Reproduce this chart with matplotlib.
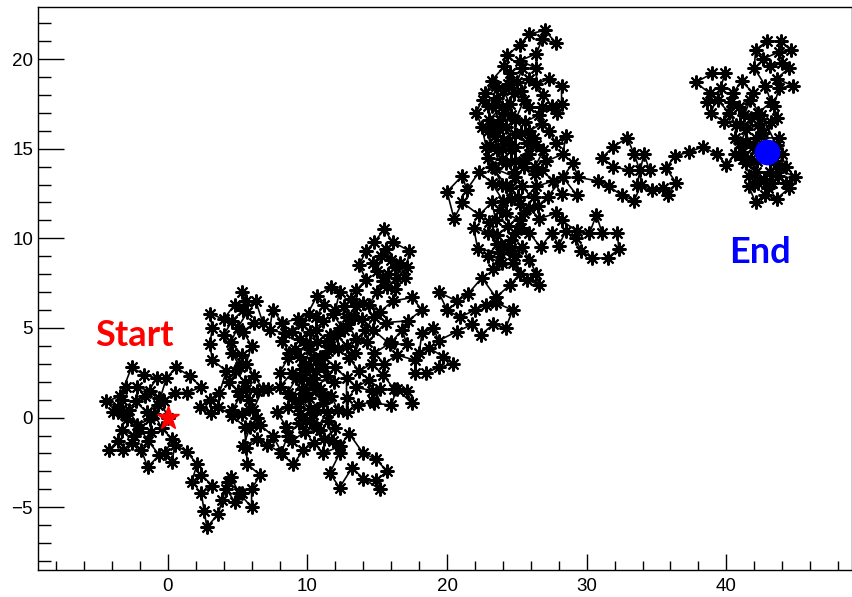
import numpy as np
import matplotlib.pyplot as plt
from matplotlib.ticker import MultipleLocator

## random walk, split into pieces (x, y)
start_loop = [
    (0, 0), (-0.6, 1.1), (-1.3, 1.5), (-2.2, 1.7), (-3.0, 1.7), (-3.3, 1.0), (-3.9, 0.3),
    (-3.3, 0.2), (-2.9, -0.1), (-2.2, -0.4), (-1.3, -0.1), (-1.2, -0.8), (-2.4, -1.0),
    (-3.3, -0.7), (-3.6, -1.3), (-4.2, -1.8), (-3.2, -1.8), (-2.6, -1.4), (-1.9, -1.8),
    (-1.45, -2.75), (-0.6, -2.1), (-1.4, -1.3), (-2.0, -0.6), (-2.8, 0.4), (-3.6, 0.6),
    (-4.4, 0.9), (-3.4, 1.2), (-2.6, 2.8), (-1.7, 2.4), (-0.8, 2.2), (-1.6, 1.2), (-2.3, 0.9),
    (-1.5, 0.3), (-0.7, 0.7), (-0.1, 2.2), (0.6, 2.8), (1.6, 2.3), (2.4, 1.7), (1.4, 1.4),
    (0.5, 1.4), (-0.3, 0.9), (-1.0, 0.2), (-0.4, -0.6), (0.3, -1.2), (-0.2, -2.0), (0.3, -2.5),
    (0.5, -1.5), (1.35, -1.9), (2.1, -2.6),
]
lower_dip = [
    (1.7, -3.6), (2.4, -3.2), (3.2, -3.8), (2.4, -4.2), (2.6, -5.2), (2.8, -6.1), (3.6, -5.4),
    (3.9, -4.6), (4.3, -3.6), (5.3, -4.2), (4.8, -4.7), (4.2, -4.0), (4.5, -3.3), (5.1, -4.2),
    (6.0, -5.0), (6.0, -4.0), (6.6, -3.2), (5.7, -2.6), (5.6, -1.7), (5.5, -0.5), (4.6, 0.1),
    (3.6, 0.6), (3.1, 0.25), (2.3, 0.6), (3.0, 1.0), (3.7, 1.4),
]
west_cluster = [
    (4.2, 2.6), (3.2, 3.2), (3.0, 4.1), (3.2, 5.0), (3.0, 5.8), (4.0, 5.5), (4.8, 6.3),
    (5.6, 6.5), (5.3, 7.0), (5.7, 5.9), (5.0, 5.0), (4.5, 4.2), (5.3, 3.5), (4.8, 2.6),
    (5.5, 2.0), (5.2, 1.2), (4.6, 0.4), (5.3, 0.2), (6.1, 0.4), (6.8, 1.6), (6.2, 2.3),
    (5.6, 3.0), (6.0, 4.0), (5.4, 4.8), (6.2, 5.3), (6.8, 5.3), (6.3, 6.5), (5.4, 6.0),
    (4.6, 5.4), (4.0, 4.6), (4.6, 3.6), (5.2, 2.8), (4.4, 2.0), (5.0, 1.5), (5.8, 1.0),
    (6.4, 0.0), (5.9, -0.5), (5.4, -1.6), (6.4, -1.2), (7.1, -1.5), (8.2, -2.0), (7.5, -1.0),
    (6.6, -0.4), (5.8, 0.5), (5.6, 1.6), (6.4, 1.5), (7.2, 1.6),
]
middle_low = [
    (8.0, 1.7), (8.9, 2.5), (8.0, 2.5), (8.6, 3.3), (9.1, 3.8), (9.8, 3.0), (10.4, 2.2),
    (9.6, 1.6), (9.4, 1.0), (8.6, 0.6), (7.8, 0.3), (8.5, -0.5), (8.9, -1.3), (9.8, -0.8),
    (10.9, -0.7), (10.3, 0.2), (11.1, 0.8), (10.6, 1.6), (11.4, 2.3), (10.8, 3.0), (11.5, 3.7),
    (10.7, 4.2), (10.2, 4.8), (9.5, 4.4), (8.9, 4.8), (8.2, 4.3), (8.7, 3.6), (9.5, 3.4),
    (10.1, 2.7), (9.2, 2.2), (8.6, 1.4), (9.3, 0.6), (10.1, 1.1), (10.9, 1.6), (11.7, 1.2),
    (12.2, 0.4), (11.5, -0.2), (11.8, -1.3), (12.3, -2.0), (11.6, -3.1), (12.3, -3.9),
    (13.2, -2.8), (14.0, -3.4), (15.2, -4.0), (14.9, -3.5), (15.7, -3.0), (14.9, -2.3),
    (14.0, -2.0), (13.0, -0.9), (12.3, -1.6), (11.1, -2.0), (10.5, -1.4), (9.7, -1.8),
    (9.0, -2.6), (8.1, -2.0), (8.6, -1.0), (9.4, -0.3), (10.2, 0.5), (9.8, 1.4), (10.6, 2.6),
    (11.2, 3.4), (12.0, 2.8), (12.8, 2.2), (12.8, 1.1), (12.8, 0.3), (13.6, 0.7), (14.7, 0.9),
    (14.6, 1.5), (13.5, 1.7), (14.4, 2.1), (15.2, 1.6), (14.8, 0.8), (16.0, 0.7), (16.4, 1.6),
    (17.5, 0.8), (17.1, 1.5), (16.2, 1.6), (15.4, 2.4), (14.6, 3.0), (13.7, 2.6), (13.0, 3.3),
    (12.2, 3.8), (11.6, 4.6), (12.3, 5.0),
]
middle_core = [
    (11.6, 4.0), (10.9, 3.4), (10.2, 3.8), (9.6, 2.7), (10.3, 1.9), (11.2, 1.2), (10.6, 0.4),
    (9.9, -0.2), (10.7, -0.6), (11.4, 0.3), (12.0, -0.6), (11.2, -1.2), (10.4, -0.3),
    (9.5, 0.2), (8.9, 1.1), (9.7, 2.2), (11.9, 2.0), (11.2, 2.8), (10.5, 3.3), (9.9, 4.1),
    (10.6, 4.9), (11.4, 4.3), (12.1, 4.6),
]
middle_knot = [
    (12.8, 4.0), (13.4, 3.6), (14.1, 4.9), (14.8, 5.6), (14.0, 6.4), (13.1, 6.6), (12.6, 6.2),
    (13.3, 5.6), (12.6, 4.9), (11.8, 5.8), (11.2, 6.3), (10.6, 5.6),
]
middle_high = [
    (11.1, 5.4), (10.1, 5.8), (9.3, 5.5), (8.2, 5.3), (7.5, 6.0), (7.3, 4.9), (8.4, 4.7),
    (9.6, 5.2), (10.7, 6.8), (11.7, 7.3), (12.3, 7.0), (12.0, 6.0), (12.8, 5.6), (13.5, 6.2),
    (13.5, 7.1), (14.2, 7.7), (13.7, 8.5), (14.2, 9.3), (14.8, 9.8), (15.5, 10.5), (16.1, 9.8),
    (17.3, 9.3), (17.1, 8.4), (16.4, 7.8), (15.7, 7.3), (15.0, 8.2), (15.3, 9.0), (16.0, 8.8),
    (16.6, 8.6), (17.0, 7.8), (16.3, 7.2), (15.4, 7.6), (14.7, 8.6), (15.6, 9.4), (16.3, 8.4),
    (15.8, 8.0), (15.0, 7.0), (14.4, 6.3), (15.2, 5.9), (16.1, 6.5), (17.5, 6.7),
    (18.2, 6.0), (17.2, 5.4), (15.6, 5.3), (14.3, 4.2), (13.5, 4.4), (12.9, 5.2), (13.9, 5.5),
    (14.7, 4.9), (15.9, 4.1), (17.1, 4.1), (16.8, 4.9), (16.0, 4.2), (14.8, 3.6), (15.5, 3.0),
    (16.4, 3.5), (17.7, 3.2), (17.7, 2.5),
]
east_low = [
    (18.5, 2.5), (19.4, 2.8), (20.4, 3.0), (19.7, 3.4), (18.7, 3.9), (18.0, 3.6), (18.2, 4.7),
    (19.0, 5.0), (19.4, 4.3), (20.7, 4.8), (21.8, 5.2), (22.4, 4.6), (23.3, 5.2), (24.2, 5.0),
    (24.7, 6.0), (23.5, 6.4), (22.8, 6.3), (22.0, 6.0), (20.9, 5.6), (20.0, 6.0), (19.4, 7.0),
    (20.7, 6.5), (21.5, 6.9), (22.5, 7.8), (23.5, 6.7), (24.5, 7.4), (25.2, 8.0), (24.7, 8.6),
    (23.3, 8.3), (23.8, 9.2),
]
tall_lower = [
    (22.2, 9.4), (21.9, 10.6), (22.9, 10.3), (24.0, 9.5), (24.7, 9.1), (25.4, 9.5), (25.9, 8.8),
    (26.4, 8.0), (26.6, 7.4), (25.7, 7.7), (25.2, 8.0), (24.9, 9.0), (24.9, 10.3), (25.9, 10.3),
    (26.7, 9.5), (27.5, 10.3), (28.0, 9.6), (28.5, 10.4), (29.2, 10.0), (29.6, 9.3), (30.4, 8.9),
    (31.5, 8.9), (32.3, 9.4), (32.2, 10.3), (31.1, 10.3), (30.7, 11.3), (30.2, 10.3),
    (29.3, 10.4), (28.2, 11.0), (27.8, 11.4), (26.6, 11.1), (25.9, 11.7), (25.2, 11.0),
    (24.2, 11.4), (23.5, 11.0), (23.2, 12.0), (22.3, 11.3), (21.1, 12.0), (20.5, 11.1),
    (20.0, 12.6), (21.1, 13.5), (21.4, 12.7), (22.3, 13.7), (23.2, 13.1), (24.0, 12.1),
    (25.2, 11.9), (26.4, 12.9), (27.6, 13.2), (28.2, 12.5), (29.3, 12.4), (28.3, 13.4),
    (27.2, 12.3), (26.5, 11.8), (25.4, 12.9), (24.5, 12.8), (24.9, 13.4), (23.4, 13.9),
]
tall_mid = [
    (23.9, 13.0), (24.6, 12.2), (23.8, 11.6), (23.0, 10.9), (23.6, 10.2), (24.4, 10.7),
    (25.3, 10.6), (24.6, 9.9), (23.6, 9.7), (22.9, 9.0), (23.9, 8.6), (24.4, 9.6),
    (25.5, 11.4), (26.2, 12.3), (25.1, 12.3), (24.2, 13.0), (23.2, 14.0),
]
tall_upper = [
    (22.9, 14.5), (22.8, 15.1), (22.5, 16.2), (22.1, 17.0), (22.7, 18.1), (23.5, 18.5),
    (23.2, 17.4), (23.8, 16.6), (23.4, 15.7), (23.9, 15.0), (24.9, 15.1), (24.2, 16.2),
    (24.5, 17.5), (24.0, 18.3), (24.5, 19.2), (25.0, 18.7), (25.4, 19.5), (24.3, 20.2),
    (25.2, 20.8), (25.9, 21.4), (27.0, 21.6), (27.8, 20.9), (26.8, 21.1), (26.4, 20.3),
    (25.2, 19.9), (26.4, 19.5), (26.4, 18.6), (27.3, 18.9), (28.2, 18.5), (28.2, 17.5),
    (27.9, 17.0), (26.8, 17.3), (25.9, 17.3), (25.5, 17.7), (24.9, 16.6), (24.9, 15.8),
    (25.7, 15.3), (25.9, 16.0), (26.8, 16.4), (27.3, 16.0), (27.8, 15.3), (28.5, 15.7),
    (28.3, 14.7), (27.1, 14.3), (26.4, 15.2), (25.9, 14.7), (24.9, 14.3), (24.2, 14.2),
]
tall_core = [
    (24.8, 13.7), (25.6, 14.4), (26.3, 14.0), (26.9, 14.9), (26.2, 15.6), (25.3, 15.9),
    (24.4, 15.4), (23.7, 16.1), (22.9, 16.0), (23.1, 15.2), (23.9, 14.4), (23.6, 14.9),
    (23.3, 16.3), (22.9, 17.4), (22.6, 17.7), (23.2, 18.8), (24.1, 19.6), (24.8, 18.1),
    (24.1, 17.0), (23.6, 17.8), (24.4, 18.6), (25.3, 18.2), (25.9, 18.9), (26.9, 18.0),
    (27.5, 17.4), (26.6, 16.9), (25.6, 16.5), (24.6, 16.9), (23.9, 17.3), (23.0, 16.6),
    (24.0, 15.5), (24.6, 14.9), (25.5, 14.0), (26.3, 13.6), (26.8, 13.8), (27.6, 13.2),
    (28.3, 13.4), (29.0, 14.2),
]
bridge = [
    (29.4, 13.4), (30.8, 13.2), (31.6, 12.9), (32.5, 12.4), (33.4, 12.1), (33.9, 13.0),
    (33.8, 13.8), (33.4, 14.7), (32.9, 15.6), (31.9, 15.1), (31.1, 14.5), (31.9, 14.0),
    (33.0, 13.8), (34.5, 13.8), (34.1, 14.7), (33.6, 13.0), (34.7, 12.7), (35.5, 12.8),
    (35.8, 12.4), (36.4, 13.1), (35.7, 13.9), (36.3, 14.6), (37.3, 14.8), (38.3, 15.1),
    (39.3, 14.7), (40.0, 14.1),
]
end_cluster = [
    (40.6, 14.7), (41.4, 14.2), (41.1, 14.8), (40.6, 15.6), (40.7, 16.3), (40.2, 17.0),
    (39.4, 17.7), (38.6, 17.6), (38.8, 18.1), (37.8, 18.7), (39.0, 19.2), (39.9, 19.2),
    (39.6, 18.4), (38.9, 17.0), (39.8, 16.5), (40.3, 17.6),
    (40.5, 18.1), (41.1, 18.8), (41.9, 18.1), (41.3, 16.9), (42.3, 17.0), (43.2, 17.6),
    (42.8, 18.5), (42.0, 19.5), (42.1, 20.5), (42.9, 21.0), (43.9, 21.0), (44.6, 20.5),
    (43.8, 20.4), (42.6, 20.0), (43.1, 19.6), (44.0, 19.8), (44.5, 19.5), (43.6, 18.9),
    (44.8, 18.5), (43.8, 18.4), (43.4, 17.4), (43.6, 16.7), (42.3, 16.3), (41.4, 16.1),
    (41.4, 15.4), (42.1, 15.6), (43.8, 15.6), (44.0, 14.7), (43.8, 13.9), (44.9, 13.4),
    (44.5, 12.8), (43.6, 12.2), (42.8, 12.4), (42.1, 12.0), (41.6, 12.9), (42.3, 13.1),
    (43.3, 13.1), (44.3, 13.1), (43.1, 13.7), (42.1, 13.7), (41.8, 14.4),
]
end_core = [
    (41.0, 15.3), (41.8, 16.7), (42.6, 15.9), (43.2, 16.5), (42.8, 15.2), (42.2, 14.3),
    (41.6, 13.5), (42.7, 13.3), (43.4, 14.3), (44.3, 14.0), (43.6, 15.2), (42.5, 16.9),
    (41.7, 17.7), (40.9, 17.3), (41.0, 16.4), (41.9, 15.1), (41.2, 14.4), (42.0, 13.0),
    (43.0, 12.8), (43.7, 13.5), (42.9, 14.8),
]

walk = np.array(start_loop + lower_dip + west_cluster + middle_low + middle_core
                + middle_knot + middle_high + east_low + tall_lower + tall_mid
                + tall_upper + tall_core + bridge + end_cluster + end_core)
x = walk[:, 0]
y = walk[:, 1]

fig = plt.figure(figsize=(8.53, 5.97), dpi=100)
ax = fig.add_axes([0.0445, 0.0452, 0.9543, 0.9430])

ax.plot(x, y, color="black", lw=1.2, marker=(8, 2, 0), ms=10, mew=1.5, mec="black")
ax.plot(x[0], y[0], marker="*", color="red", ms=17, ls="none", zorder=5)
ax.plot(x[-1], y[-1], marker="o", color="blue", ms=17.5, ls="none", zorder=5)

ax.text(-2.4, 4.6, "Start", color="red", fontsize=26, fontweight="bold",
        family="Lato", ha="center", va="center")
ax.text(42.4, 9.2, "End", color="blue", fontsize=26, fontweight="bold",
        family="Lato", ha="center", va="center")

ax.set_xlim(-9.3, 49)
ax.set_ylim(-8.5, 22.9)
ax.xaxis.set_major_locator(MultipleLocator(10))
ax.xaxis.set_minor_locator(MultipleLocator(2))
ax.yaxis.set_major_locator(MultipleLocator(5))
ax.yaxis.set_minor_locator(MultipleLocator(1))

ax.tick_params(axis="both", which="both", direction="in", top=False, right=False,
               width=1.0, labelsize=13.5)
ax.tick_params(axis="x", which="major", length=11.5, pad=6)
ax.tick_params(axis="x", which="minor", length=6.5)
ax.tick_params(axis="y", which="major", length=18.5, pad=3.5)
ax.tick_params(axis="y", which="minor", length=9.5)
for lab in ax.get_xticklabels() + ax.get_yticklabels():
    lab.set_family("Liberation Sans")
for s in ax.spines.values():
    s.set_linewidth(1.0)

fig.savefig("out.png", dpi=100)
